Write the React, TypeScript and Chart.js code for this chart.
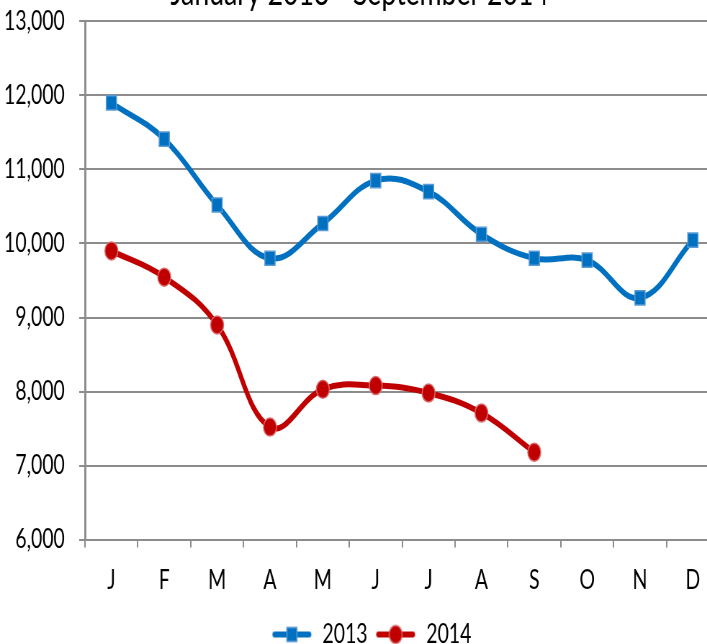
import React, { useEffect, useRef } from "react";
import { Chart, registerables } from "chart.js";

Chart.register(...registerables);

const months = ["J", "F", "M", "A", "M", "J", "J", "A", "S", "O", "N", "D"];
const series2013 = [11900, 11410, 10520, 9800, 10270, 10850, 10700, 10125, 9800, 9775, 9265, 10045];
const series2014 = [9900, 9545, 8900, 7520, 8030, 8080, 7980, 7710, 7180];
const seriesNames = ["2013", "2014"];
const titleText = "January 2013 - September 2014";
const yMin = 6000;
const yMax = 13000;
const yStep = 1000;

const BLUE = "#0070C0";
const BLUE_EDGE = "#5B9BD5";
const RED = "#C00000";
const RED_EDGE = "#D9696B";
const GRID = "#8C8C8C";
const FONT = "Lato, 'Liberation Sans', sans-serif";

const SQUISH = 0.72;
const CW = 1000;
const CH = 687;
const TOP_SHIFT = -29;
const Y_AXIS_WIDTH = 118;
const LEGEND_SHIFT = 14;

function legendIcon(kind: "rect" | "circle", color: string, edge: string) {
  const c = document.createElement("canvas");
  c.width = 62;
  c.height = 22;
  const ctx = c.getContext("2d")!;
  ctx.strokeStyle = color;
  ctx.lineWidth = 6;
  ctx.lineCap = "round";
  ctx.beginPath();
  ctx.moveTo(9, 11);
  ctx.lineTo(57, 11);
  ctx.stroke();
  ctx.fillStyle = color;
  ctx.strokeStyle = edge;
  ctx.lineWidth = 1.5;
  if (kind === "rect") {
    ctx.beginPath();
    ctx.rect(26, 4, 14, 14);
    ctx.fill();
    ctx.stroke();
  } else {
    ctx.beginPath();
    ctx.arc(33, 11, 9, 0, Math.PI * 2);
    ctx.fill();
    ctx.stroke();
  }
  return c;
}

const legendShiftPlugin = {
  id: "legendShift",
  afterLayout(chart: any) {
    const lg = chart.legend;
    if (lg) {
      lg.left += LEGEND_SHIFT;
      lg.right += LEGEND_SHIFT;
    }
  },
};

export default function App() {
  const ref = useRef<HTMLCanvasElement | null>(null);

  useEffect(() => {
    if (!ref.current) return;
    const icons = [legendIcon("rect", BLUE, BLUE_EDGE), legendIcon("circle", RED, RED_EDGE)];
    const chart = new Chart(ref.current, {
      type: "line",
      plugins: [legendShiftPlugin],
      data: {
        labels: months,
        datasets: [
          {
            label: seriesNames[0],
            data: series2013,
            borderColor: BLUE,
            backgroundColor: BLUE,
            borderWidth: 6,
            tension: 0.4,
            pointStyle: "rect",
            pointRadius: 10,
            pointBackgroundColor: BLUE,
            pointBorderColor: BLUE_EDGE,
            pointBorderWidth: 1.5,
            clip: false as any,
          },
          {
            label: seriesNames[1],
            data: series2014,
            borderColor: RED,
            backgroundColor: RED,
            borderWidth: 6,
            tension: 0.4,
            pointStyle: "circle",
            pointRadius: 9,
            pointBackgroundColor: RED,
            pointBorderColor: RED_EDGE,
            pointBorderWidth: 1.5,
            clip: false as any,
          },
        ],
      },
      options: {
        responsive: false,
        maintainAspectRatio: false,
        devicePixelRatio: 1,
        animation: false,
        layout: { autoPadding: false, padding: { left: 0, right: 1, top: 0, bottom: 0 } },
        plugins: {
          tooltip: { enabled: false },
          title: {
            display: true,
            text: titleText,
            color: "#000",
            font: { family: FONT, size: 37, weight: "normal" },
            padding: { top: 0, bottom: 6 },
          },
          legend: {
            display: true,
            position: "bottom",
            labels: {
              usePointStyle: true,
              pointStyleWidth: 62,
              boxHeight: 22,
              color: "#000",
              padding: 6,
              font: { family: FONT, size: 27 },
              generateLabels: () =>
                seriesNames.map((name, i) => ({
                  text: name,
                  pointStyle: icons[i] as any,
                  fillStyle: i === 0 ? BLUE : RED,
                  strokeStyle: i === 0 ? BLUE : RED,
                  lineWidth: 0,
                  hidden: false,
                  datasetIndex: i,
                  fontColor: "#000",
                })),
            },
          },
        },
        scales: {
          x: {
            type: "category",
            offset: true,
            afterFit: (scale: any) => {
              scale.paddingLeft = 0;
              scale.paddingRight = 0;
              scale.height = scale.height + 3;
            },
            grid: {
              display: true,
              drawOnChartArea: false,
              drawTicks: true,
              tickLength: 8,
              offset: true,
              color: GRID,
              lineWidth: 2,
            },
            border: { display: true, color: GRID, width: 2 },
            ticks: {
              color: "#000",
              font: { family: FONT, size: 27 },
              padding: 16,
              maxRotation: 0,
              autoSkip: false,
            },
          },
          y: {
            min: yMin,
            max: yMax,
            afterFit: (scale: any) => {
              scale.width = Y_AXIS_WIDTH;
            },
            grid: { color: GRID, lineWidth: 2, tickLength: 8 },
            border: { display: true, color: GRID, width: 3 },
            ticks: {
              stepSize: yStep,
              color: "#000",
              font: { family: FONT, size: 27 },
              padding: 20,
              callback: (v: any) => Number(v).toLocaleString("en-US"),
            },
          },
        },
      },
    });
    return () => chart.destroy();
  }, []);

  return (
    <div
      style={{
        position: "fixed",
        left: 0,
        top: 0,
        width: 707,
        height: 644,
        overflow: "hidden",
        background: "#fff",
      }}
    >
      <div
        style={{
          position: "absolute",
          left: 0,
          top: TOP_SHIFT,
          width: CW,
          height: CH,
          transform: `scaleX(${SQUISH})`,
          transformOrigin: "0 0",
        }}
      >
        <canvas ref={ref} width={CW} height={CH} style={{ display: "block", width: CW, height: CH }} />
      </div>
    </div>
  );
}
